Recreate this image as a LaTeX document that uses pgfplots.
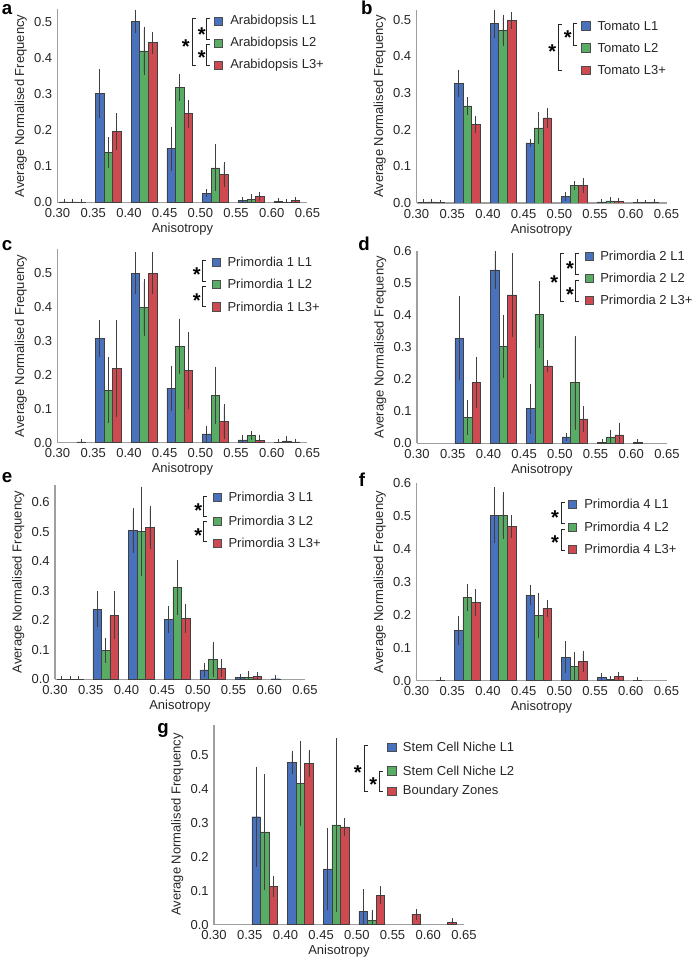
\documentclass[border=0pt]{standalone}
\usepackage{pgfplots}
\usepackage{pgfplotstable}
\pgfplotsset{compat=1.18}
\usepackage{fontspec}
\setmainfont{Liberation Sans}
\definecolor{cb}{RGB}{72,114,190}
\definecolor{cg}{RGB}{88,172,100}
\definecolor{cr}{RGB}{206,74,80}
\newcommand{\legfont}{\fontsize{9.75}{11}\selectfont}
\newcommand{\tickfont}{\fontsize{9.75}{11}\selectfont}
\newcommand{\starfont}{\fontsize{15}{15}\selectfont\bfseries}

\pgfplotstableread{
x b be g ge r re
0.30 0.002 0.001 0.002 0.001 0.001 0.001
0.35 0.302 0.060 0.139 0.035 0.197 0.044
0.40 0.502 0.025 0.420 0.060 0.443 0.023
0.45 0.149 0.054 0.319 0.030 0.246 0.031
0.50 0.026 0.004 0.096 0.058 0.078 0.027
0.55 0.005 0.003 0.009 0.006 0.017 0.005
0.60 0.003 0.002 0.001 0.001 0.005 0.003
}\tabA
\pgfplotstableread{
x b be g ge r re
0.30 0.002 0.001 0.003 0.001 0.001 0.000
0.35 0.326 0.030 0.265 0.017 0.215 0.016
0.40 0.489 0.031 0.471 0.035 0.498 0.016
0.45 0.164 0.003 0.205 0.037 0.232 0.021
0.50 0.019 0.005 0.048 0.004 0.048 0.013
0.55 0.003 0.001 0.006 0.002 0.005 0.002
0.60 0.002 0.001 0.001 0.000 0.002 0.001
}\tabB
\pgfplotstableread{
x b be g ge r re
0.30 nan nan nan nan 0.002 0.001
0.35 0.307 0.047 0.154 0.089 0.219 0.135
0.40 0.499 0.054 0.398 0.076 0.499 0.055
0.45 0.160 0.059 0.283 0.074 0.212 0.106
0.50 0.026 0.016 0.139 0.077 0.063 0.043
0.55 0.008 0.007 0.021 0.006 0.006 0.010
0.60 0.001 0.001 0.005 0.008 0.002 0.002
}\tabC
\pgfplotstableread{
x b be g ge r re
0.35 0.327 0.122 0.081 0.046 0.190 0.072
0.40 0.540 0.050 0.302 0.089 0.462 0.123
0.45 0.108 0.070 0.402 0.096 0.241 0.011
0.50 0.020 0.003 0.189 0.138 0.076 0.031
0.55 0.003 0.001 0.020 0.014 0.026 0.030
0.60 0.003 0.002 nan nan nan nan
}\tabD
\pgfplotstableread{
x b be g ge r re
0.30 0.001 0.000 0.001 0.000 0.001 0.000
0.35 0.237 0.052 0.098 0.033 0.217 0.072
0.40 0.505 0.067 0.502 0.142 0.515 0.063
0.45 0.203 0.037 0.312 0.084 0.207 0.040
0.50 0.032 0.014 0.068 0.050 0.038 0.022
0.55 0.006 0.003 0.007 0.012 0.010 0.007
0.60 0.002 0.002 nan nan nan nan
}\tabE
\pgfplotstableread{
x b be g ge r re
0.30 nan nan nan nan 0.002 0.001
0.35 0.153 0.035 0.253 0.033 0.238 0.033
0.40 0.503 0.077 0.503 0.063 0.469 0.026
0.45 0.260 0.023 0.198 0.061 0.220 0.017
0.50 0.071 0.040 0.044 0.034 0.058 0.025
0.55 0.009 0.006 0.004 0.002 0.012 0.006
0.60 0.001 0.001 nan nan nan nan
}\tabF
\pgfplotstableread{
x b be g ge r re
0.35 0.318 0.140 0.273 0.163 0.113 0.023
0.40 0.478 0.027 0.417 0.118 0.476 0.032
0.45 0.164 0.114 0.294 0.248 0.288 0.019
0.50 0.039 0.058 0.012 0.024 0.086 0.019
0.55 nan nan nan nan 0.030 0.008
0.60 nan nan nan nan 0.007 0.004
}\tabG

\pgfplotsset{
  barstyle/.style={ybar, bar shift=0pt, bar width=0.012, fill=#1, draw=black!75, line width=0.35pt,
    error bars/.cd, y dir=both, y explicit, error mark=-,
    error bar style={black!75, line width=0.5pt},
    error mark options={black!75, line width=0.5pt, mark size=2pt}},
  panel/.style={
    scale only axis, width=187.5pt,
    xmin=0.30, xmax=0.65, ymin=0,
    axis x line*=bottom, axis y line*=left,
    axis line style={draw=gray!75, line width=0.8pt, -},
    xtick={0.30,0.35,0.40,0.45,0.50,0.55,0.60,0.65},
    major tick length=0pt,
    xticklabel style={font=\tickfont, text=black!85, yshift=-1pt, /pgf/number format/.cd, fixed, fixed zerofill, precision=2, assume math mode=true},
    yticklabel style={font=\tickfont, text=black!85, xshift=-0.5pt, /pgf/number format/.cd, fixed, fixed zerofill, precision=1, assume math mode=true},
    xlabel={Anisotropy}, ylabel={Average Normalised Frequency},
    every axis x label/.style={at={([yshift=-20pt]axis description cs:0.5,0)}, anchor=center, font=\fontsize{9.75}{11}\selectfont, text=black!85},
    every axis y label/.style={at={([xshift=-27.6pt]axis description cs:0,0.5)}, anchor=center, rotate=90, font=\fontsize{9.75}{11}\selectfont, text=black!85},
  }
}
\newcommand{\threebars}[1]{%
  \addplot[barstyle=cb] table[x expr=\thisrow{x}+0.009, y=b, y error=be] {#1};
  \addplot[barstyle=cg] table[x expr=\thisrow{x}+0.021, y=g, y error=ge] {#1};
  \addplot[barstyle=cr] table[x expr=\thisrow{x}+0.033, y=r, y error=re] {#1};
}
\newcommand{\legrow}[5]{%
  \draw[fill=#3, draw=black!70, line width=0.4pt] (#1,#2-4.2) rectangle ++(8.4,8.4);
  \node[anchor=west, inner sep=0pt, font=\legfont, text=black!85] at (#4,#2) {#5};}
\newcommand{\brk}[3]{\draw[black!85, line width=0.6pt] (#1+3.5,#2) -- (#1,#2) -- (#1,#3) -- (#1+3.5,#3);}
\newcommand{\sigstar}[2]{\node[font=\starfont, inner sep=0pt] at (#1,#2+4.4) {*};}
\newcommand{\plabel}[3]{\node[font=\fontsize{14}{14}\selectfont\bfseries, inner sep=0pt] at (#1,#2) {#3};}

\begin{document}
\begin{tikzpicture}
\useasboundingbox (0,0) rectangle (520.5pt,718.5pt);
% a
\begin{axis}[panel, at={(43.125pt,566.625pt)}, anchor=south west, height=144.8pt, ymax=0.535, ytick={0,0.1,0.2,0.3,0.4,0.5}]
\threebars{\tabA}
\end{axis}
% b
\begin{axis}[panel, at={(312.375pt,566.25pt)}, anchor=south west, height=144.7pt, ymax=0.526, ytick={0,0.1,0.2,0.3,0.4,0.5}]
\threebars{\tabB}
\end{axis}
% c
\begin{axis}[panel, at={(43.125pt,386.5pt)}, anchor=south west, height=145.35pt, ymax=0.57, ytick={0,0.1,0.2,0.3,0.4,0.5}]
\threebars{\tabC}
\end{axis}
% d
\begin{axis}[panel, at={(312.75pt,386pt)}, anchor=south west, height=144.5pt, ymax=0.6, ytick={0,0.1,0.2,0.3,0.4,0.5,0.6}]
\threebars{\tabD}
\end{axis}
% e
\begin{axis}[panel, at={(41.25pt,209pt)}, anchor=south west, height=146pt, ymax=0.66, ytick={0,0.1,0.2,0.3,0.4,0.5,0.6}]
\threebars{\tabE}
\end{axis}
% f
\begin{axis}[panel, at={(312.4pt,208pt)}, anchor=south west, height=148pt, ymax=0.6, ytick={0,0.1,0.2,0.3,0.4,0.5,0.6}]
\threebars{\tabF}
\end{axis}
% g
\begin{axis}[panel, at={(160.5pt,25.1pt)}, anchor=south west, height=150pt, ymax=0.59, ytick={0,0.1,0.2,0.3,0.4,0.5}]
\threebars{\tabG}
\end{axis}

\begin{scope}[x=0.75pt, y=-0.75pt, yshift=718.5pt]
% panel letters
\plabel{7}{10}{a}
\plabel{366.7}{8}{b}
\plabel{7}{246}{c}
\plabel{364}{244}{d}
\plabel{7}{478}{e}
\plabel{362}{480}{f}
\plabel{163}{730}{g}
% a legend
\legrow{214.3}{21.3}{cb}{230}{Arabidopsis L1}
\legrow{214.3}{43.3}{cg}{230}{Arabidopsis L2}
\legrow{214.3}{65}{cr}{230}{Arabidopsis L3+}
\brk{206.7}{18.3}{39.3}\sigstar{201.7}{30}
\brk{206.7}{44.3}{65}\sigstar{201.7}{53.3}
\brk{192.3}{18.3}{65}\sigstar{185.7}{42.3}
% b legend
\legrow{581.7}{25.7}{cb}{597.3}{Tomato L1}
\legrow{581.7}{47.7}{cg}{597.3}{Tomato L2}
\legrow{581.7}{70}{cr}{597.3}{Tomato L3+}
\brk{573.3}{23.3}{45}\sigstar{567.7}{33.3}
\brk{558.3}{24}{70.7}\sigstar{552.3}{47.3}
% c legend
\legrow{212}{262.3}{cb}{227.3}{Primordia 1 L1}
\legrow{212}{284.3}{cg}{227.3}{Primordia 1 L2}
\legrow{212}{306.7}{cr}{227.3}{Primordia 1 L3+}
\brk{202.3}{260}{281.7}\sigstar{196.7}{270.7}
\brk{202.3}{286}{306.7}\sigstar{196.7}{296}
% d legend
\legrow{585}{256}{cb}{600}{Primordia 2 L1}
\legrow{585}{278.3}{cg}{600}{Primordia 2 L2}
\legrow{585}{300}{cr}{600}{Primordia 2 L3+}
\brk{575}{253.3}{274.3}\sigstar{570}{264.3}
\brk{575}{280}{301}\sigstar{570}{290}
\brk{560.7}{253.3}{301}\sigstar{554.3}{278.3}
% e legend
\legrow{213.3}{497.3}{cb}{228.3}{Primordia 3 L1}
\legrow{213.3}{521}{cg}{228.3}{Primordia 3 L2}
\legrow{213.3}{543.3}{cr}{228.3}{Primordia 3 L3+}
\brk{203.3}{496}{516.7}\sigstar{198.3}{506.7}
\brk{203.3}{521.7}{541.7}\sigstar{198.3}{531}
% f legend
\legrow{568.3}{504.3}{cb}{584}{Primordia 4 L1}
\legrow{568.3}{527.3}{cg}{584}{Primordia 4 L2}
\legrow{568.3}{549}{cr}{584}{Primordia 4 L3+}
\brk{561}{502.3}{523.3}\sigstar{555}{513.3}
\brk{561}{529.3}{550}\sigstar{555}{538.3}
% g legend
\legrow{387.7}{747.3}{cb}{402.7}{Stem Cell Niche L1}
\legrow{387.7}{770.7}{cg}{402.7}{Stem Cell Niche L2}
\legrow{387.7}{791}{cr}{402.7}{Boundary Zones}
\brk{364}{745}{791}\sigstar{357.7}{768.3}
\brk{379.3}{771}{791}\sigstar{373.3}{780.7}
\end{scope}
\end{tikzpicture}
\end{document}
